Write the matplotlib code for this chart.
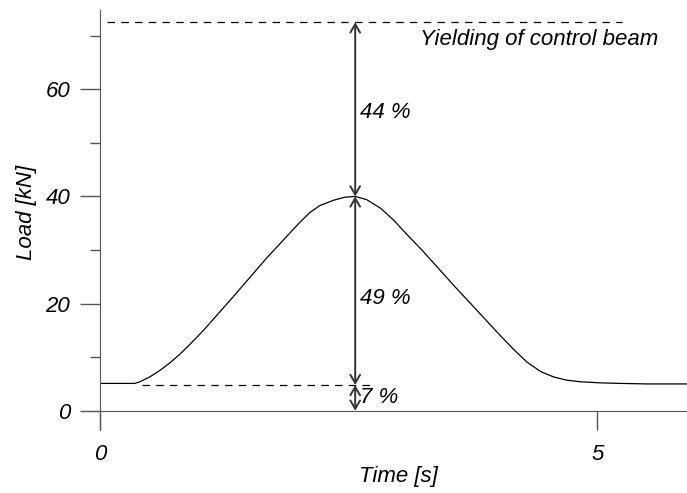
import matplotlib
matplotlib.use("Agg")
import matplotlib.pyplot as plt
from matplotlib.ticker import MultipleLocator

# load history
time = [0.0, 0.35, 0.40, 0.50, 0.60, 0.70, 0.80, 0.91, 1.04, 1.34, 1.68, 1.91,
        2.01, 2.11, 2.21, 2.35, 2.46, 2.565, 2.68, 2.82, 2.95, 3.09, 3.24,
        3.57, 3.91, 4.02, 4.16, 4.29, 4.43, 4.56, 4.69, 4.83, 5.03, 5.23, 5.5, 5.9]
load = [5.1, 5.1, 5.4, 6.3, 7.5, 8.9, 10.5, 12.5, 15.0, 21.3, 28.6, 33.2,
        35.2, 37.0, 38.3, 39.3, 39.85, 40.0, 39.4, 37.8, 35.6, 32.8, 29.9,
        23.1, 16.3, 14.1, 11.4, 9.1, 7.3, 6.3, 5.7, 5.4, 5.2, 5.1, 5.0, 5.0]

yield_load = 72.5
peak_load = 40.0
base_load = 4.8
peak_time = 2.565
share_labels = ["44 %", "49 %", "7 %"]
yield_text = "Yielding of control beam"

plt.rcParams['font.family'] = ['Liberation Sans', 'DejaVu Sans']
plt.rcParams['font.style'] = 'italic'
plt.rcParams['font.size'] = 16

fig = plt.figure(figsize=(6.87, 4.93), dpi=100)
ax = fig.add_axes([100 / 687, 63 / 493, 587 / 687, 420 / 493])

axis_col = '#555555'
ax.plot(time, load, color='black', lw=0.9, solid_joinstyle='round')

# reference levels
ax.plot([0.07, 5.25], [yield_load, yield_load], color='black', lw=0.9, dashes=(6, 5))
ax.plot([0.42, 2.75], [base_load, base_load], color='black', lw=0.9, dashes=(6, 5))

# dimension arrows
levels = [yield_load, peak_load, base_load, 0.0]
for top, bottom in zip(levels[:-1], levels[1:]):
    ax.annotate('', xy=(peak_time, bottom), xytext=(peak_time, top),
                arrowprops=dict(arrowstyle='<->,head_length=0.6,head_width=0.35',
                                color='#333333', lw=1.4, shrinkA=0, shrinkB=0,
                                mutation_scale=10))

ax.text(peak_time + 0.05, 55.6, share_labels[0], va='center', ha='left')
ax.text(peak_time + 0.05, 21.0, share_labels[1], va='center', ha='left')
ax.text(peak_time + 0.05, 2.4, share_labels[2], va='center', ha='left')
ax.text(3.22, 69.2, yield_text, va='center', ha='left')

ax.set_xlim(0, 5.9)
ax.set_ylim(-3.6, 74.8)

for s in ['top', 'right']:
    ax.spines[s].set_visible(False)
ax.spines['bottom'].set_position(('data', 0))
ax.spines['bottom'].set_color(axis_col)
ax.spines['left'].set_color(axis_col)

ax.set_xticks([0, 5])
ax.yaxis.set_major_locator(MultipleLocator(20))
ax.yaxis.set_minor_locator(MultipleLocator(10))
ax.set_yticks([0, 20, 40, 60])
ax.tick_params(axis='y', which='major', direction='out', length=14.4, width=1,
               color=axis_col, pad=7)
ax.tick_params(axis='y', which='minor', direction='out', length=7.2, width=1,
               color=axis_col)
ax.tick_params(axis='x', which='major', direction='out', length=13.7, width=1,
               color=axis_col, pad=10)

ax.set_xlabel('Time [s]')
ax.set_ylabel('Load [kN]')
ax.xaxis.set_label_coords(0.508, -0.085)
ax.yaxis.set_label_coords(-0.107, 0.519)

fig.savefig('out.png', dpi=100)
